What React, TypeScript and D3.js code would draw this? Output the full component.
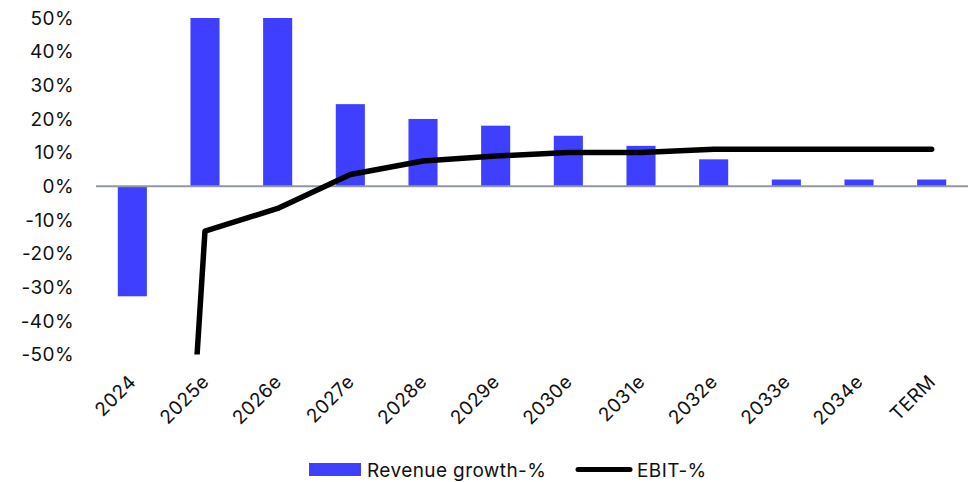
import React from "react";
import * as d3 from "d3";

const categories = ["2024", "2025e", "2026e", "2027e", "2028e", "2029e", "2030e", "2031e", "2032e", "2033e", "2034e", "TERM"];
const revenueGrowth = [-32.7, 50, 50, 24.4, 20, 18, 15, 12, 8, 2, 2, 2];
const ebitMargin = [-350, -13.3, -6.6, 3.5, 7.5, 9, 10, 10, 11, 11, 11, 11];
const yTicks = [-50, -40, -30, -20, -10, 0, 10, 20, 30, 40, 50];

const W = 974;
const H = 482;
const FONT = "Inter, 'Liberation Sans', Arial, sans-serif";
const BLUE = "#3f3fff";
const FS = 19;
const LS = 0.4;

export default function App() {
  const x = d3.scaleBand<string>().domain(categories).range([96, 968]).paddingInner(0.6).paddingOuter(0.3);
  const y = d3.scaleLinear().domain([-50, 50]).range([354.5, 18]);
  const cx = (c: string) => (x(c) as number) + x.bandwidth() / 2;
  const line = d3
    .line<number>()
    .x((_, i) => cx(categories[i]))
    .y((d) => y(d));

  return (
    <svg width={W} height={H} style={{ position: "absolute", left: 0, top: 0, background: "#fff" }}>
      <defs>
        <clipPath id="plot">
          <rect x={90} y={y(50)} width={890} height={y(-50) - y(50)} />
        </clipPath>
      </defs>
      {yTicks.map((t) => (
        <text key={t} x={74} y={y(t)} dy="0.36em" textAnchor="end" fontFamily={FONT} fontSize={FS} letterSpacing={LS} fill="#111">
          {t}%
        </text>
      ))}
      <g clipPath="url(#plot)">
        {categories.map((c, i) => {
          const v = revenueGrowth[i];
          return (
            <rect
              key={c}
              x={x(c)}
              y={Math.min(y(v), y(0))}
              width={x.bandwidth()}
              height={Math.abs(y(v) - y(0))}
              fill={BLUE}
            />
          );
        })}
      </g>
      <line x1={96} x2={968} y1={y(0)} y2={y(0)} stroke="#8f99a3" strokeWidth={2} />
      <g clipPath="url(#plot)">
        <path d={line(ebitMargin) || ""} fill="none" stroke="#000" strokeWidth={5.5} strokeLinejoin="round" strokeLinecap="round" />
      </g>
      {categories.map((c) => (
        <text
          key={c}
          transform={`translate(${cx(c) + 5},${383}) rotate(-45)`}
          textAnchor="end"
          fontFamily={FONT}
          fontSize={FS}
          letterSpacing={LS}
          fill="#111"
        >
          {c}
        </text>
      ))}
      <rect x={309} y={463} width={52} height={13} fill={BLUE} />
      <text x={367} y={477} fontFamily={FONT} fontSize={FS} letterSpacing={LS} fill="#111">
        Revenue growth-%
      </text>
      <line x1={578} x2={630} y1={469.5} y2={469.5} stroke="#000" strokeWidth={5} strokeLinecap="round" />
      <text x={637} y={477} fontFamily={FONT} fontSize={FS} letterSpacing={LS} fill="#111">
        EBIT-%
      </text>
    </svg>
  );
}
